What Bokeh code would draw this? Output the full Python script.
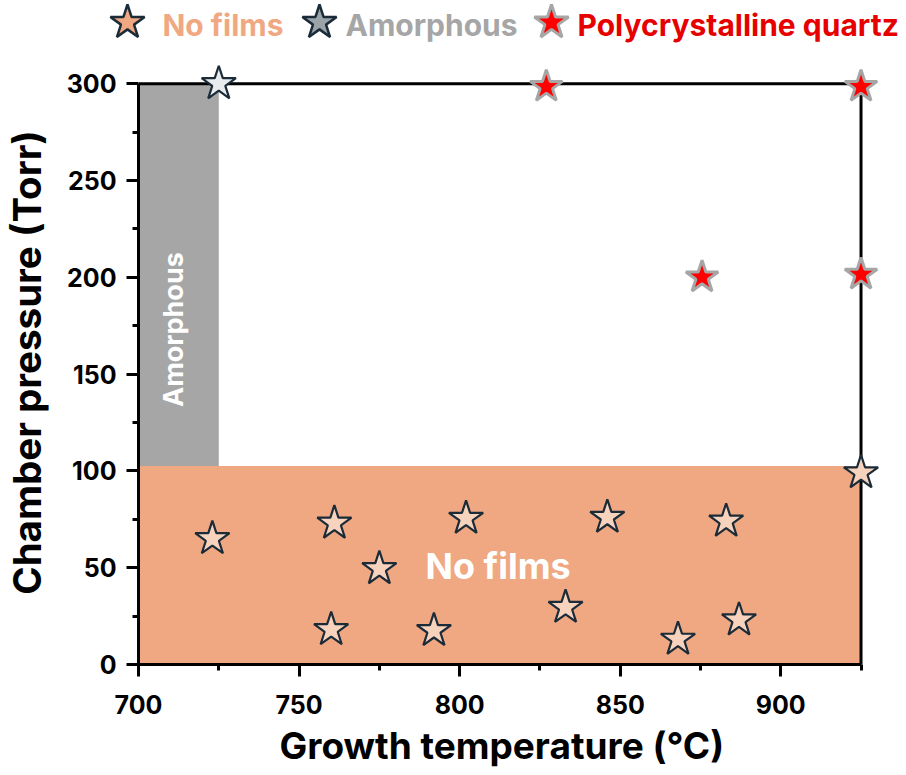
from bokeh.plotting import figure
from bokeh.models import Range1d, FixedTicker, Title
from bokeh.embed import file_html
from bokeh.resources import INLINE
from bokeh.core.properties import value

# ---- data: growth temperature (°C) and chamber pressure (Torr) ----
no_films_temp = [723, 761, 775, 760, 802, 792, 833, 846, 868, 883, 887, 925]
no_films_pres = [65, 73, 49.5, 18, 75.5, 17.5, 29.5, 76, 13, 74, 23, 99]

amorphous_temp = [725]
amorphous_pres = [300]

quartz_temp = [827, 875.5, 925, 925]
quartz_pres = [298.5, 200, 298.5, 201.5]

# shaded regimes: (temp_start, temp_end, pres_start, pres_end)
no_films_region = (700, 925, 0, 102.5)
amorphous_region = (700, 725, 102.5, 300)

x_ticks = [700, 750, 800, 850, 900]
x_minor = [725, 775, 825, 875, 925]
y_ticks = [0, 50, 100, 150, 200, 250, 300]
y_minor = [25, 75, 125, 175, 225, 275]

legend_labels = ["No films", "Amorphous", "Polycrystalline quartz"]

X_MIN, X_MAX = 700, 925
Y_MIN, Y_MAX = 0, 300

FONT = "Inter"
ORANGE = "#f0a883"
GREY = "#a6a6a6"
PEACH = "#f7d3bd"
DARK = "#1b2b38"
RED = "#ff0000"
STAR = 36

# ---- legend strip (its own root so it spans the full page width) ----
leg = figure(width=906, height=60, x_range=Range1d(0, 906), y_range=Range1d(60, 0),
             x_axis_type=None, y_axis_type=None,
             toolbar_location=None, output_backend="svg", min_border=0)
leg.outline_line_color = None
leg.grid.visible = False

leg_star_x = [127, 319, 551]
leg_text_x = [162, 345, 577]
leg.scatter(leg_star_x, [22, 22, 22], marker="star", size=STAR,
            fill_color=[ORANGE, "#9aa3a8", RED],
            line_color=[DARK, DARK, GREY], line_width=[2.5, 2.5, 3])
leg.text(x=leg_text_x, y=[24, 24, 24], text=legend_labels,
         text_color=[ORANGE, GREY, "#e60000"],
         text_font=value(FONT), text_font_style="bold", text_font_size="30px",
         text_align="left", text_baseline="middle")

# ---- main chart ----
p = figure(
    frame_width=745, frame_height=604,
    x_range=Range1d(700, 932), y_range=Range1d(0, 312),
    toolbar_location=None, output_backend="svg",
    min_border_left=138, min_border_right=23,
    min_border_top=0, min_border_bottom=111,
)
p.outline_line_color = None
p.grid.visible = False
p.background_fill_color = "white"
p.border_fill_color = "white"

p.quad(left=[no_films_region[0]], right=[no_films_region[1]],
       bottom=[no_films_region[2]], top=[no_films_region[3]],
       fill_color=ORANGE, line_color=None)
p.quad(left=[amorphous_region[0]], right=[amorphous_region[1]],
       bottom=[amorphous_region[2]], top=[amorphous_region[3]],
       fill_color=GREY, line_color=None)

# top and right edges of the plotting box
p.line(x=[X_MIN, X_MAX, X_MAX], y=[Y_MAX, Y_MAX, Y_MIN],
       line_color="black", line_width=3, line_join="miter")

p.text(x=[812], y=[51], text=["No films"], text_color="white",
       text_font=value(FONT), text_font_style="bold", text_font_size="36px",
       text_align="center", text_baseline="middle")
p.text(x=[711], y=[173], text=["Amorphous"], text_color="white", angle=1.5708,
       text_font=value(FONT), text_font_style="bold", text_font_size="27px",
       text_align="center", text_baseline="middle")

p.scatter(no_films_temp, no_films_pres, marker="star", size=STAR,
          fill_color=PEACH, line_color=DARK, line_width=2.2)
p.scatter(amorphous_temp, amorphous_pres, marker="star", size=STAR,
          fill_color="#e8ecee", line_color=DARK, line_width=2.2)
p.scatter(quartz_temp, quartz_pres, marker="star", size=STAR - 2,
          fill_color=RED, line_color=GREY, line_width=3)

for ax in (p.xaxis[0], p.yaxis[0]):
    ax.axis_line_width = 3
    ax.major_tick_line_width = 3
    ax.minor_tick_line_width = 3
    ax.major_tick_out = 12
    ax.major_tick_in = 0
    ax.minor_tick_out = 6
    ax.minor_tick_in = 0
    ax.major_label_text_font = FONT
    ax.major_label_text_font_style = "bold"
    ax.major_label_text_font_size = "25px"
    ax.major_label_text_color = "black"
    ax.axis_label_text_font = FONT
    ax.axis_label_text_font_style = "bold"
    ax.axis_label_text_color = "black"

p.yaxis.axis_label_text_font_size = "38.5px"
p.xaxis.bounds = (X_MIN, X_MAX)
p.yaxis.bounds = (Y_MIN, Y_MAX)
p.xaxis.ticker = FixedTicker(ticks=x_ticks, minor_ticks=x_minor)
p.yaxis.ticker = FixedTicker(ticks=y_ticks, minor_ticks=y_minor)
p.yaxis.axis_label = "Chamber pressure (Torr)"
p.xaxis.major_label_standoff = 18
p.yaxis.major_label_standoff = 10
p.yaxis.axis_label_standoff = 14

# x-axis title, set under the axis and centred on the 700-925 °C span
p.add_layout(Title(text="Growth temperature (°C)", align="left", offset=141,
                   text_font=FONT, text_font_style="bold", text_font_size="37px",
                   text_color="black", standoff=9), "below")

open("out.html", "w").write(file_html([leg, p], INLINE))
